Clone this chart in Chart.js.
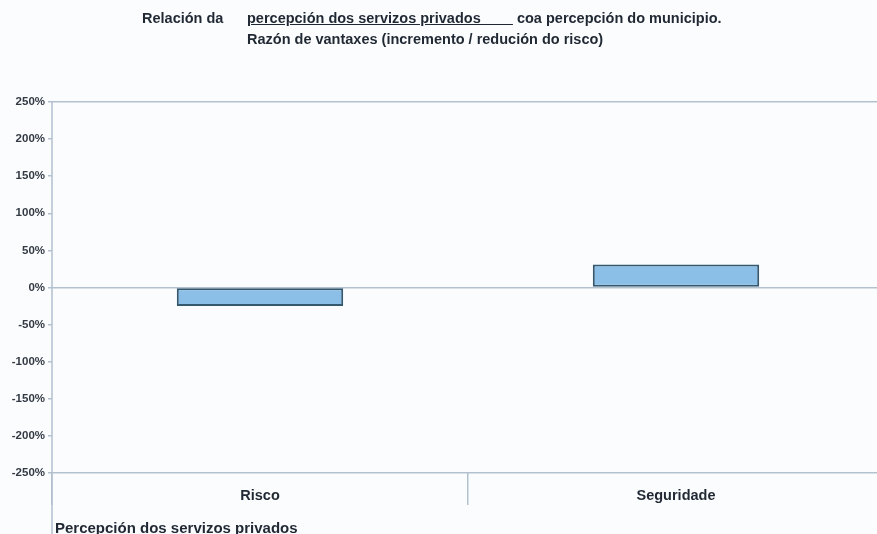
<!DOCTYPE html>
<html>
<head>
<meta charset="utf-8">
<script src="https://cdn.jsdelivr.net/npm/chart.js@4/dist/chart.umd.min.js"></script>
<style>
  html, body { margin: 0; padding: 0; width: 877px; height: 534px; overflow: hidden; background: #fbfcfe; }
  #wrap { position: relative; width: 884px; height: 534px; }
  canvas { position: absolute; left: 0; top: 0; }
  .t { position: absolute; font-family: "Liberation Sans", Arial, sans-serif; font-weight: bold; font-size: 14.5px; color: #1f2833; white-space: nowrap; line-height: 1; }
  .u { text-decoration: underline; }
</style>
</head>
<body>
<div id="wrap">
  <canvas id="c" width="884" height="534"></canvas>
  <div class="t" style="left:142px; top:11px;">Relación da</div>
  <div class="t" style="left:247px; top:11px;"><span class="u">percepción dos servizos privados&nbsp;&nbsp;&nbsp;&nbsp;&nbsp;&nbsp;&nbsp;&nbsp;</span> coa percepción do municipio.</div>
  <div class="t" style="left:247px; top:32px;">Razón de vantaxes (incremento / redución do risco)</div>
  <div class="t" style="left:55px; top:520px; font-size:15px;">Percepción dos servizos privados</div>
</div>
<script>
const categories = ["Risco", "Seguridade"];
const values = [-25, 31];
const yTicks = [250, 200, 150, 100, 50, 0, -50, -100, -150, -200, -250];

const axisColor = '#b3c1cf';

const bgPlugin = {
  id: 'bg',
  beforeDraw(chart) {
    const ctx = chart.ctx;
    ctx.save();
    ctx.fillStyle = '#fbfcfe';
    ctx.fillRect(0, 0, chart.width, chart.height);
    ctx.restore();
  },
  afterDraw(chart) {
    const ctx = chart.ctx;
    const a = chart.chartArea;
    ctx.save();
    ctx.strokeStyle = axisColor;
    ctx.lineWidth = 1.5;
    ctx.beginPath();
    ctx.moveTo(a.left, a.top);
    ctx.lineTo(a.left, chart.height);
    ctx.stroke();
    ctx.restore();
  }
};

new Chart(document.getElementById('c'), {
  type: 'bar',
  data: {
    labels: categories,
    datasets: [{
      data: values,
      backgroundColor: '#8cbfe8',
      borderColor: '#34596f',
      borderWidth: 2,
      borderSkipped: false,
      barPercentage: 0.4,
      categoryPercentage: 1.0
    }]
  },
  plugins: [bgPlugin],
  options: {
    responsive: false,
    animation: false,
    devicePixelRatio: 1,
    layout: { padding: { top: 102, left: 0, right: 0, bottom: 0 } },
    plugins: { legend: { display: false }, tooltip: { enabled: false }, title: { display: false } },
    scales: {
      x: {
        grid: {
          offset: true,
          drawOnChartArea: false,
          color: axisColor,
          lineWidth: 1.5,
          tickLength: 32
        },
        border: { display: false },
        ticks: {
          padding: -18,
          color: '#1f2833',
          font: { family: '"Liberation Sans", Arial, sans-serif', size: 14.5, weight: 'bold' }
        },
        afterFit(scale) { scale.height = 61; }
      },
      y: {
        min: -250,
        max: 250,
        afterBuildTicks(scale) { scale.ticks = yTicks.map(v => ({ value: v })); },
        grid: {
          color: (c) => (c.tick && [0, 250, -250].includes(c.tick.value)) ? axisColor : 'rgba(0,0,0,0)',
          tickColor: axisColor,
          lineWidth: 1.5,
          tickLength: 4
        },
        border: { display: false },
        ticks: {
          padding: 3,
          color: '#333a44',
          font: { family: '"Liberation Sans", Arial, sans-serif', size: 11.5, weight: 'bold' },
          callback: (v) => v + '%'
        },
        afterFit(scale) { scale.width = 52; }
      }
    }
  }
});
</script>
</body>
</html>
